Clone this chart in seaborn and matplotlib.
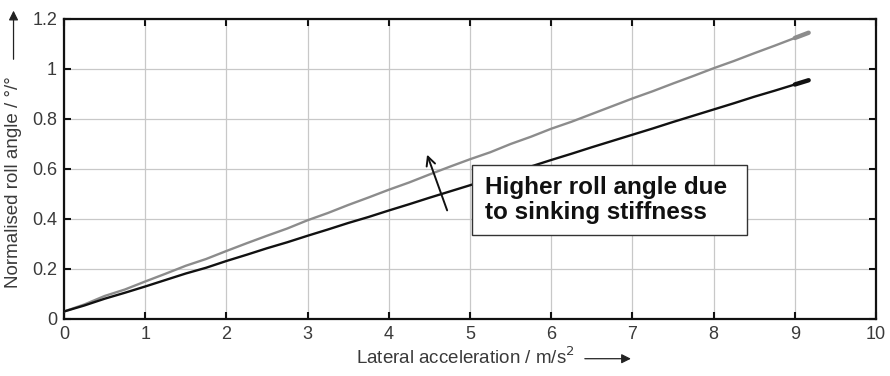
import matplotlib
matplotlib.use("Agg")
import matplotlib.pyplot as plt
from matplotlib.patches import Rectangle
import seaborn as sns
import pandas as pd

# Lateral acceleration in m/s^2
accel = [0.0, 0.25, 0.5, 0.75, 1.0, 1.25, 1.5, 1.75, 2.0, 2.25, 2.5, 2.75, 3.0,
         3.25, 3.5, 3.75, 4.0, 4.25, 4.5, 4.75, 5.0, 5.25, 5.5, 5.75, 6.0, 6.25,
         6.5, 6.75, 7.0, 7.25, 7.5, 7.75, 8.0, 8.25, 8.5, 8.75, 9.0, 9.17]

# Normalised roll angle with sinking stiffness (grey)
roll_sinking = [0.030, 0.058, 0.092, 0.118, 0.150, 0.181, 0.213, 0.240, 0.272,
                0.303, 0.333, 0.362, 0.395, 0.424, 0.456, 0.486, 0.517, 0.546,
                0.578, 0.609, 0.639, 0.667, 0.700, 0.729, 0.761, 0.789, 0.820,
                0.851, 0.882, 0.911, 0.942, 0.972, 1.003, 1.032, 1.063, 1.093,
                1.124, 1.145]

# Normalised roll angle without sinking stiffness (black)
roll_base = [0.030, 0.054, 0.081, 0.105, 0.130, 0.156, 0.182, 0.205, 0.232,
             0.257, 0.283, 0.307, 0.333, 0.358, 0.384, 0.408, 0.434, 0.459,
             0.485, 0.510, 0.535, 0.560, 0.586, 0.610, 0.636, 0.661, 0.687,
             0.712, 0.737, 0.762, 0.788, 0.813, 0.838, 0.863, 0.889, 0.913,
             0.938, 0.955]

x_ticks = [0, 1, 2, 3, 4, 5, 6, 7, 8, 9, 10]
y_ticks = [0, 0.2, 0.4, 0.6, 0.8, 1.0, 1.2]
y_tick_labels = ["0", "0.2", "0.4", "0.6", "0.8", "1", "1.2"]

df = pd.DataFrame({
    "accel": accel * 2,
    "roll": roll_sinking + roll_base,
    "variant": ["sinking"] * len(accel) + ["base"] * len(accel),
})
palette = {"sinking": "#8c8c8c", "base": "#111111"}

sns.set_theme(style="white")
plt.rcParams["font.family"] = ["Liberation Sans", "DejaVu Sans"]

fig = plt.figure(figsize=(8.9, 3.76), dpi=100)
ax = fig.add_axes([0.0719, 0.1516, 0.9124, 0.7979])

sns.lineplot(data=df, x="accel", y="roll", hue="variant", palette=palette,
             linewidth=1.7, legend=False, ax=ax, zorder=3)
# Dense samples at the end of each run show up as a thicker tail
sns.lineplot(data=df[df["accel"] >= 9.0], x="accel", y="roll", hue="variant",
             palette=palette, linewidth=3.2, legend=False, ax=ax, zorder=3)

ax.set_xlim(0, 10)
ax.set_ylim(0, 1.2)
ax.set_xticks(x_ticks)
ax.set_xticklabels([str(t) for t in x_ticks])
ax.set_yticks(y_ticks)
ax.set_yticklabels(y_tick_labels)
ax.grid(True, color="#c8c8c8", linewidth=0.9)
ax.tick_params(direction="in", length=5, width=1.5, top=True, right=True,
               bottom=True, left=True, labelsize=13, labelcolor="#3a3a3a",
               colors="#111111", pad=5)
for spine in ax.spines.values():
    spine.set_linewidth(1.6)
    spine.set_color("#111111")
ax.set_xlabel("")
ax.set_ylabel("")

# Axis titles with direction arrows
fig.text(0.523, 0.051, "Lateral acceleration / m/s$^2$", ha="center",
         va="center", fontsize=13.5, color="#3a3a3a")
ax.annotate("", xy=(0.712, 0.046), xytext=(0.654, 0.046),
            xycoords="figure fraction",
            arrowprops=dict(arrowstyle="-|>", color="#222222", lw=0.9,
                            mutation_scale=14))
fig.text(0.0157, 0.516, "Normalised roll angle / °/°", rotation=90,
         ha="center", va="center", fontsize=13.5, color="#3a3a3a")
ax.annotate("", xy=(0.0152, 0.979), xytext=(0.0152, 0.835),
            xycoords="figure fraction",
            arrowprops=dict(arrowstyle="-|>", color="#222222", lw=0.9,
                            mutation_scale=14))

# Annotation arrow and boxed note
ax.annotate("", xy=(4.46, 0.668), xytext=(4.73, 0.424),
            arrowprops=dict(arrowstyle="->", color="#111111", lw=1.4,
                            mutation_scale=16))
ax.add_patch(Rectangle((5.025, 0.336), 3.385, 0.280, facecolor="white",
                       edgecolor="#333333", linewidth=1.0, zorder=5))
ax.text(5.185, 0.476, "Higher roll angle due\nto sinking stiffness",
        fontsize=17.5, fontweight="bold", color="#111111", ha="left",
        va="center", linespacing=1.15, zorder=6)

fig.savefig("out.png", dpi=100)
